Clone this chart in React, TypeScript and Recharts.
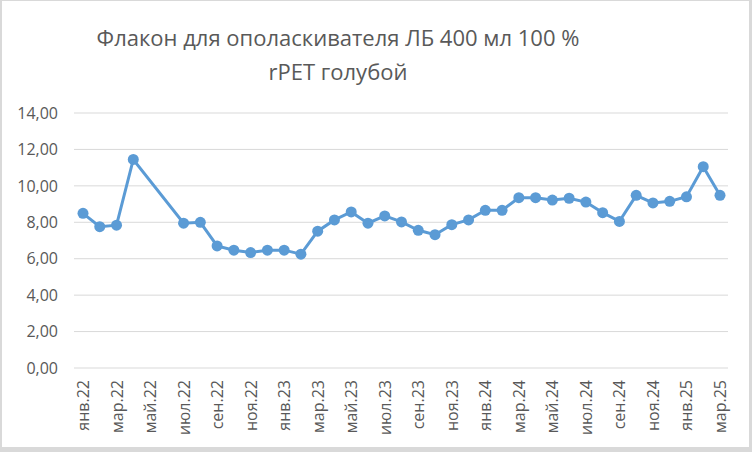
import React from 'react';
import { LineChart, Line, XAxis, YAxis, CartesianGrid } from 'recharts';

const MONTHS = [
  'янв.22', 'фев.22', 'мар.22', 'апр.22', 'май.22', 'июн.22', 'июл.22', 'авг.22', 'сен.22', 'окт.22', 'ноя.22', 'дек.22',
  'янв.23', 'фев.23', 'мар.23', 'апр.23', 'май.23', 'июн.23', 'июл.23', 'авг.23', 'сен.23', 'окт.23', 'ноя.23', 'дек.23',
  'янв.24', 'фев.24', 'мар.24', 'апр.24', 'май.24', 'июн.24', 'июл.24', 'авг.24', 'сен.24', 'окт.24', 'ноя.24', 'дек.24',
  'янв.25', 'фев.25', 'мар.25'
];

// цена, null = нет данных (май, июнь 2022)
const PRICES: (number | null)[] = [
  8.49, 7.76, 7.84, 11.45, null, null, 7.95, 8.0, 6.7, 6.47, 6.34, 6.47,
  6.47, 6.25, 7.51, 8.13, 8.57, 7.95, 8.35, 8.02, 7.56, 7.32, 7.87, 8.13,
  8.66, 8.66, 9.35, 9.35, 9.22, 9.32, 9.11, 8.53, 8.05, 9.48, 9.06, 9.15,
  9.4, 11.05, 9.48
];

const Y_TICKS = [0, 2, 4, 6, 8, 10, 12, 14];

const TITLE_LINES = ['Флакон для ополаскивателя ЛБ 400 мл 100 %', 'rPET голубой'];

const data = MONTHS.map((month, i) => ({ month, price: PRICES[i] }));

const FONT = '"Open Sans", "Liberation Sans", sans-serif';
const TEXT_COLOR = '#595959';
const LINE_COLOR = '#5B9BD5';

const MonthTick = (props: any) => {
  const { x, y, payload } = props;
  return (
    <text
      x={x}
      y={y}
      transform={`rotate(-90, ${x}, ${y})`}
      textAnchor="end"
      dominantBaseline="central"
      fill={TEXT_COLOR}
      fontSize={16}
      fontFamily={FONT}
    >
      {payload.value}
    </text>
  );
};

export default function App() {
  return (
    <div style={{ position: 'fixed', left: 0, top: 0, width: 752, height: 452, background: '#d9d9d9' }}>
      <div style={{ position: 'absolute', left: 2, top: 1, width: 747, height: 446, background: '#ffffff' }} />
      <div style={{ position: 'absolute', left: 0, top: 0 }}>
        <LineChart
          width={752}
          height={452}
          data={data}
          margin={{ top: 113, right: 24, bottom: 0, left: 0 }}
        >
          <CartesianGrid vertical={false} stroke="#d9d9d9" strokeWidth={1} />
          <XAxis
            dataKey="month"
            interval={1}
            height={84}
            padding={{ left: 9, right: 8 }}
            axisLine={false}
            tickLine={false}
            tickMargin={6}
            tick={<MonthTick />}
          />
          <YAxis
            domain={[0, 14]}
            ticks={Y_TICKS}
            width={74}
            axisLine={false}
            tickLine={false}
            tickMargin={10}
            tickFormatter={(v: number) => v.toFixed(2).replace('.', ',')}
            tick={{ fill: TEXT_COLOR, fontSize: 16, fontFamily: FONT }}
          />
          <Line
            type="linear"
            dataKey="price"
            stroke={LINE_COLOR}
            strokeWidth={3}
            connectNulls
            dot={{ r: 5.5, fill: LINE_COLOR, stroke: LINE_COLOR, strokeWidth: 0 }}
            activeDot={false}
            isAnimationActive={false}
          />
        </LineChart>
      </div>
      {TITLE_LINES.map((line, i) => (
        <div
          key={line}
          style={{
            position: 'absolute',
            left: 338 - 300,
            width: 600,
            top: 22 + i * 34,
            textAlign: 'center',
            fontFamily: FONT,
            fontSize: 22,
            lineHeight: '30px',
            color: TEXT_COLOR,
            whiteSpace: 'nowrap',
          }}
        >
          {line}
        </div>
      ))}
    </div>
  );
}
